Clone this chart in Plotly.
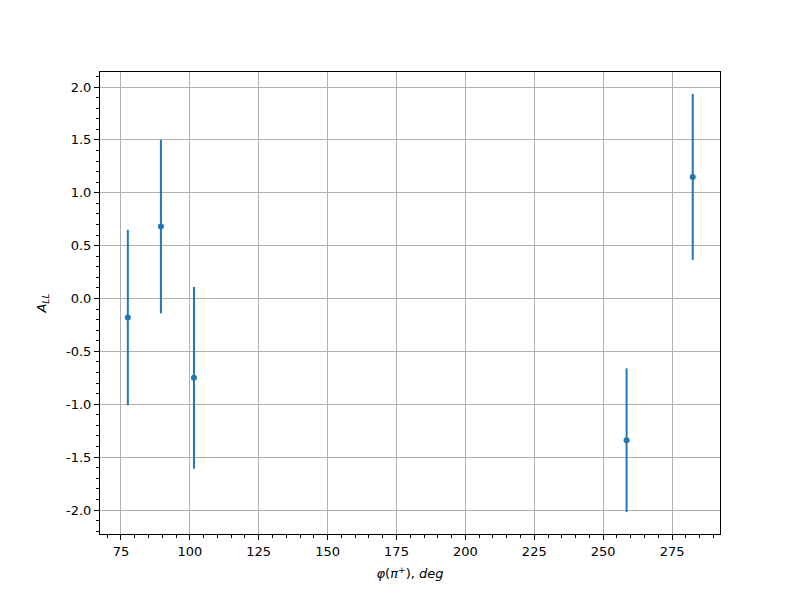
import plotly.graph_objects as go

phi = [77.5, 89.5, 101.5, 258.5, 282.5]
a_ll = [-0.18, 0.68, -0.75, -1.34, 1.15]
a_ll_err = [0.83, 0.82, 0.86, 0.68, 0.785]

x_ticks = [75, 100, 125, 150, 175, 200, 225, 250, 275]
y_ticks = [-2.0, -1.5, -1.0, -0.5, 0.0, 0.5, 1.0, 1.5, 2.0]

color = "#1f77b4"
font = dict(family="DejaVu Sans", size=13, color="black")

fig = go.Figure()
fig.add_trace(go.Scatter(
    x=phi, y=a_ll, mode="markers",
    marker=dict(color=color, size=6),
    error_y=dict(type="data", array=a_ll_err, visible=True,
                 color=color, thickness=2, width=0),
    showlegend=False,
))

axis_common = dict(
    showline=True, linecolor="black", linewidth=1, mirror=True,
    ticks="outside", ticklen=5, tickwidth=1, tickcolor="black",
    showgrid=True, gridcolor="#b0b0b0", gridwidth=1,
    zeroline=False, tickfont=font,
)

fig.update_xaxes(
    range=[67.4, 292.4], tickvals=x_ticks,
    ticktext=[str(v) for v in x_ticks],
    minor=dict(dtick=5, ticks="outside", ticklen=3, tickcolor="black", showgrid=False),
    title=dict(text="<i>φ</i>(<i>π</i><sup>+</sup>), <i>deg</i>", font=font, standoff=11),
    **axis_common,
)
fig.update_yaxes(
    range=[-2.227, 2.142], tickvals=y_ticks,
    ticktext=[f"{v:.1f}" for v in y_ticks],
    minor=dict(dtick=0.1, ticks="outside", ticklen=3, tickcolor="black", showgrid=False),
    title=dict(text="<i>A</i><sub><i>LL</i></sub>", font=font, standoff=16),
    **axis_common,
)

fig.update_layout(
    width=800, height=600,
    margin=dict(l=92, r=88, t=64, b=74),
    plot_bgcolor="white", paper_bgcolor="white",
    font=font,
)

fig.write_html("out.html")
